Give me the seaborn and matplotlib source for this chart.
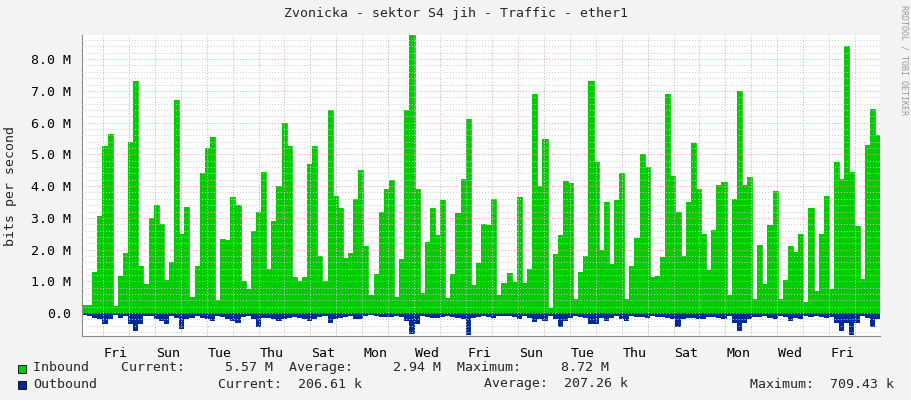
import numpy as np
import matplotlib
matplotlib.use("Agg")
import matplotlib.pyplot as plt
import seaborn as sns
from matplotlib.ticker import MultipleLocator, FixedLocator

inbound = [0.25,0.25,1.3,3.05,5.25,5.65,0.23,1.17,1.9,5.4,7.3,1.5,0.92,3.0,3.4,2.8,1.05,1.6,6.7,2.5,
           3.35,0.5,1.5,4.4,5.2,5.55,0.4,2.35,2.3,3.65,3.4,1.0,0.77,2.6,3.2,4.45,1.4,2.9,4.0,6.0,
           5.25,1.15,1.0,1.15,4.7,5.25,1.8,1.0,6.4,3.7,3.3,1.75,1.9,
           3.6,4.5,2.1,0.57,1.23,3.2,3.9,4.2,0.5,1.7,6.4,8.8,3.9,0.63,2.24,3.3,2.46,3.57,0.47,1.23,
           3.16,4.23,6.1,0.88,1.58,2.8,2.78,3.6,0.57,0.95,1.26,0.98,3.66,0.95,1.39,6.9,4.0,5.5,0.16,
           1.86,2.46,4.17,4.1,0.44,1.3,1.8,7.3,4.77,2.0,3.5,1.55,
           3.57,4.4,0.44,1.48,2.37,5.0,4.6,1.14,1.17,1.77,6.9,4.33,3.2,1.8,3.5,5.37,3.9,2.5,1.36,2.63,
           4.04,4.14,0.57,3.6,7.0,4.04,4.3,0.44,2.15,0.92,2.78,3.85,0.44,1.04,2.1,1.93,2.5,0.35,3.3,0.7,
           2.5,3.7,0.76,4.77,4.23,8.4,4.45,2.75,1.07,5.3,6.44,5.6]
outbound = [0.05,0.1,0.15,0.2,0.35,0.2,0.05,0.15,0.1,0.35,0.55,0.35,0.1,0.1,0.2,0.25,0.35,0.1,0.15,0.5,
            0.2,0.15,0.1,0.15,0.2,0.25,0.1,0.12,0.2,0.25,0.3,0.12,0.1,0.2,0.45,0.15,0.15,0.2,0.25,0.2,
            0.15,0.12,0.15,0.2,0.25,0.2,0.12,0.1,0.3,0.2,0.15,0.12,0.1,
            0.2,0.18,0.1,0.05,0.1,0.12,0.12,0.12,0.1,0.12,0.25,0.65,0.35,0.1,0.12,0.15,0.15,0.12,0.1,0.12,
            0.15,0.2,0.7,0.15,0.12,0.1,0.12,0.15,0.1,0.08,0.1,0.12,0.2,0.1,0.15,0.28,0.2,0.25,0.1,
            0.2,0.45,0.25,0.15,0.1,0.12,0.15,0.35,0.35,0.15,0.25,0.15,
            0.1,0.2,0.25,0.1,0.12,0.12,0.15,0.1,0.12,0.12,0.15,0.2,0.45,0.2,0.15,0.15,0.2,0.2,0.12,0.12,
            0.15,0.2,0.1,0.3,0.55,0.3,0.2,0.12,0.12,0.1,0.15,0.2,0.1,0.12,0.25,0.15,0.2,0.1,0.12,0.1,
            0.12,0.15,0.12,0.3,0.55,0.3,0.7,0.3,0.1,0.15,0.45,0.2]
day_labels = ["Fri","Sun","Tue","Thu","Sat","Mon","Wed","Fri","Sun","Tue","Thu","Sat","Mon","Wed","Fri"]

n = min(len(inbound), len(outbound))
span_days = 800/26.0
step = span_days / n
x = np.arange(n+1) * step
inb = np.array(inbound[:n] + [inbound[n-1]])
outb = -np.array(outbound[:n] + [outbound[n-1]])

sns.set_style("white")
plt.rcParams['font.family'] = ['DejaVu Sans Mono', 'DejaVu Sans']
fig = plt.figure(figsize=(9.11, 4.0), dpi=100, facecolor="#f3f3f3")
ax = fig.add_axes([82/911, 1-336/400, 798/911, 301/400])
ax.set_facecolor("white")

ax.fill_between(x, 0, inb, step="post", color="#00cc00", linewidth=0)
ax.fill_between(x, 0, outb, step="post", color="#002a97", linewidth=0)
sns.lineplot(x=x, y=inb, drawstyle="steps-post", color="#00cc00", linewidth=0.6, ax=ax)

ax.set_xlim(0, span_days)
ax.set_ylim(-0.72, 8.76)
first_mid = (103-82)/26.0
ax.xaxis.set_major_locator(FixedLocator([first_mid + 0.5 + 2*i for i in range(len(day_labels))]))
ax.set_xticklabels(day_labels, fontsize=9.5)
ax.xaxis.set_minor_locator(FixedLocator([first_mid - 1 + k for k in range(33)]))
ax.yaxis.set_major_locator(MultipleLocator(1.0))
ax.yaxis.set_minor_locator(MultipleLocator(0.2))
ax.set_yticks(np.arange(0, 9, 1.0))
ax.set_yticklabels(["0.0"] + [f"{v:.1f} M" for v in range(1, 9)], fontsize=9.5)
ax.grid(which="minor", color="#cccccc", linestyle=(0, (1, 2)), linewidth=0.7)
ax.grid(which="major", axis="y", color="#f0a0a0", linestyle=(0, (1, 2)), linewidth=0.7)
for d in range(31):
    ax.axvline(first_mid + d, color="#f0a0a0", linestyle=(0, (1, 2)), linewidth=0.7, zorder=0.5)
ax.set_axisbelow(False)
for s in ["top", "right"]:
    ax.spines[s].set_visible(False)
ax.spines["left"].set_color("#888888")
ax.spines["bottom"].set_color("#888888")
ax.tick_params(axis="both", which="both", length=0, colors="#000000", pad=8)
ax.set_ylabel("bits per second", fontsize=9.5, labelpad=10)

fig.text(0.5, 1-14/400, "Zvonicka - sektor S4 jih - Traffic - ether1", ha="center", va="center", fontsize=9.5)
fig.text(904/911, 1-60/400, "RRDTOOL / TOBI OETIKER", rotation=270, ha="center", va="center",
         fontsize=6, color="#999999")
fig.patches.append(plt.Rectangle((18/911, 1-373/400), 8/911, 8/400, transform=fig.transFigure,
                                 facecolor="#00cc00", edgecolor="black", linewidth=0.6))
fig.patches.append(plt.Rectangle((18/911, 1-389/400), 8/911, 8/400, transform=fig.transFigure,
                                 facecolor="#002a97", edgecolor="black", linewidth=0.6))
fig.text(33/911, 1-368/400, "Inbound    Current:     5.57 M  Average:     2.94 M  Maximum:     8.72 M",
         va="center", fontsize=9.5)
fig.text(33/911, 1-384/400, "Outbound", va="center", fontsize=9.5)
fig.text(218/911, 1-384/400, "Current:  206.61 k", va="center", fontsize=9.5)
fig.text(484/911, 1-384/400, "Average:  207.26 k", va="center", fontsize=9.5)
fig.text(750/911, 1-384/400, "Maximum:  709.43 k", va="center", fontsize=9.5)

fig.savefig("out.png", dpi=100, facecolor=fig.get_facecolor())
